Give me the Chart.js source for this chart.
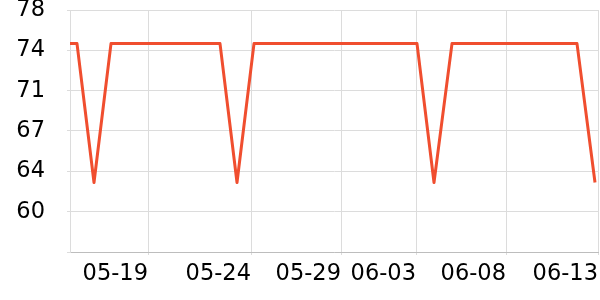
<!DOCTYPE html>
<html>
<head>
<meta charset="utf-8">
<script src="https://cdn.jsdelivr.net/npm/chart.js@4/dist/chart.umd.min.js"></script>
<style>
html,body{margin:0;padding:0;background:#fff;}
#wrap{width:600px;height:300px;}
</style>
</head>
<body>
<div id="wrap"><canvas id="c" width="600" height="300"></canvas></div>
<script>
// Data (x = record position along the category sequence, y = value)
const pointX = [0, 3.5, 12, 20.5, 75, 83.5, 92, 173.5, 182, 191, 253.5, 262.5];
const pointY = [75, 75, 62.6, 75, 75, 62.6, 75, 75, 62.6, 75, 75, 62.6];
const xTickPositions = [39, 90.5, 135.5, 173, 218, 264];
const xTickLabels = ['05-19', '05-24', '05-29', '06-03', '06-08', '06-13'];
const yTickValues = [56.4, 60, 63.6, 67.2, 70.8, 74.4, 78];

const FONT = {family: '"DejaVu Sans", sans-serif', size: 22.5};

new Chart(document.getElementById('c'), {
  type: 'line',
  data: {
    datasets: [{
      data: pointX.map((x, i) => ({x: x, y: pointY[i]})),
      borderColor: '#f04e2f',
      borderWidth: 3,
      borderJoinStyle: 'round',
      pointRadius: 0,
      tension: 0,
      fill: false
    }]
  },
  options: {
    responsive: false,
    animation: false,
    layout: {padding: {left: 14, right: 2, top: 10, bottom: 0}},
    plugins: {legend: {display: false}, tooltip: {enabled: false}},
    scales: {
      x: {
        type: 'linear',
        min: 0,
        max: 264,
        afterBuildTicks: s => { s.ticks = xTickPositions.map(v => ({value: v})); },
        afterFit: s => { s.paddingLeft = 0; s.paddingRight = 0; s.height = 48; },
        ticks: {
          autoSkip: false,
          maxRotation: 0,
          minRotation: 0,
          align: 'end',
          color: '#000',
          font: FONT,
          padding: 6,
          callback: (v) => { const i = xTickPositions.indexOf(v); return i >= 0 ? xTickLabels[i] : ''; }
        },
        grid: {color: '#dcdcdc', tickLength: 3, lineWidth: 1},
        border: {color: '#bdbdbd'}
      },
      y: {
        type: 'linear',
        min: 56.4,
        max: 78,
        afterBuildTicks: s => { s.ticks = yTickValues.map(v => ({value: v})); },
        afterFit: s => { s.paddingTop = 0; s.paddingBottom = 0; s.width = 56; },
        ticks: {
          color: '#000',
          font: FONT,
          padding: 22,
          callback: (v) => v === 56.4 ? '' : String(Math.round(v))
        },
        grid: {color: '#dcdcdc', tickLength: 3, lineWidth: 1},
        border: {color: '#dcdcdc'}
      }
    }
  }
});
</script>
</body>
</html>
